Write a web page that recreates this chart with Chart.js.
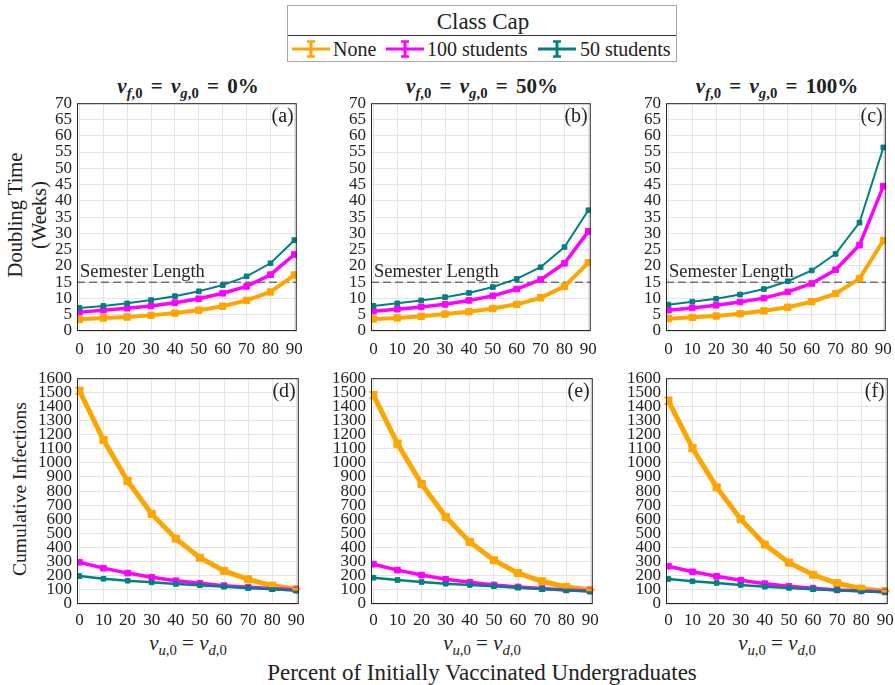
<!DOCTYPE html>
<html>
<head>
<meta charset="utf-8">
<script src="https://cdn.jsdelivr.net/npm/chart.js@4.4.1/dist/chart.umd.min.js"></script>
<style>
  body { margin: 0; background: #fff; font-family: 'Liberation Serif', 'DejaVu Serif', serif; color: #222; }
  #wrap { position: relative; width: 895px; height: 685px; overflow: hidden; }
  canvas { position: absolute; }
  .lbl { position: absolute; white-space: nowrap; line-height: 1; }
  .ctr { transform: translate(-50%, -50%); }
  .title { font-size: 21px; font-weight: bold; word-spacing: 3px; }
  .title i, .xsub i { font-style: italic; }
  sub { font-size: 70%; vertical-align: -0.35em; line-height: 0; }
  #legend { position: absolute; left: 287px; top: 5px; width: 390px; height: 57px; border: 1px solid #a8a8a8; box-sizing: border-box; }
  #legend .div { position: absolute; left: 0; right: 0; top: 29px; border-top: 1px solid #333; }
  .item { position: absolute; top: 33px; font-size: 20px; }
  .item svg { position: absolute; top: 0; }
</style>
</head>
<body>
<div id="wrap">
  <div id="legend">
    <div class="lbl ctr" style="left:195px; top:15px; font-size:23px;">Class Cap</div>
    <div class="div"></div>
  </div>
  <div class="lbl ctr title" style="left:188px; top:86px;"><i>v</i><sub><i>f</i>,0</sub> = <i>v</i><sub><i>g</i>,0</sub> = 0%</div>
  <div class="lbl ctr title" style="left:482px; top:86px;"><i>v</i><sub><i>f</i>,0</sub> = <i>v</i><sub><i>g</i>,0</sub> = 50%</div>
  <div class="lbl ctr title" style="left:777px; top:86px;"><i>v</i><sub><i>f</i>,0</sub> = <i>v</i><sub><i>g</i>,0</sub> = 100%</div>
  <div class="lbl" style="left:27px; top:215px; transform: translate(-50%, -50%) rotate(-90deg); font-size:20.5px; line-height:24px; text-align:center;">Doubling Time<br>(Weeks)</div>
  <div class="lbl" style="left:20px; top:489px; transform: translate(-50%, -50%) rotate(-90deg); font-size:19.5px;">Cumulative Infections</div>
  <div class="lbl ctr xsub" style="left:188px; top:643px; font-size:21px;"><i>v</i><sub><i>u</i>,0</sub> = <i>v</i><sub><i>d</i>,0</sub></div>
  <div class="lbl ctr xsub" style="left:482px; top:643px; font-size:21px;"><i>v</i><sub><i>u</i>,0</sub> = <i>v</i><sub><i>d</i>,0</sub></div>
  <div class="lbl ctr xsub" style="left:777px; top:643px; font-size:21px;"><i>v</i><sub><i>u</i>,0</sub> = <i>v</i><sub><i>d</i>,0</sub></div>
  <div class="lbl ctr" style="left:482px; top:672px; font-size:23px;">Percent of Initially Vaccinated Undergraduates</div>
</div>
<script>
// x values: percent of initially vaccinated undergraduates
const xVals = [0, 10, 20, 30, 40, 50, 60, 70, 80, 90];
const xTicks = [0, 10, 20, 30, 40, 50, 60, 70, 80, 90];
const dtTicks = [0, 5, 10, 15, 20, 25, 30, 35, 40, 45, 50, 55, 60, 65, 70];
const ciTicks = [0, 100, 200, 300, 400, 500, 600, 700, 800, 900, 1000, 1100, 1200, 1300, 1400, 1500, 1600];
const semesterLength = 15;

const seriesNames = ['None', '100 students', '50 students'];
const seriesColors = ['#ffa500', '#ff00ff', '#008080'];

// doubling time (weeks)
const dtNone0 = [3.6, 4.0, 4.3, 4.8, 5.5, 6.4, 7.6, 9.4, 12.0, 17.2];
const dt100s0 = [5.8, 6.4, 7.0, 7.7, 8.7, 9.9, 11.6, 13.7, 17.3, 23.5];
const dt50s0 = [7.1, 7.7, 8.5, 9.5, 10.7, 12.2, 14.1, 16.8, 20.8, 27.9];
const dtNone50 = [3.7, 4.0, 4.5, 5.2, 5.9, 6.9, 8.2, 10.2, 13.7, 21.0];
const dt100s50 = [6.1, 6.7, 7.4, 8.2, 9.4, 10.8, 12.9, 15.8, 20.8, 30.6];
const dt50s50 = [7.7, 8.5, 9.4, 10.4, 11.7, 13.5, 16.0, 19.6, 25.8, 37.1];
const dtNone100 = [3.8, 4.2, 4.6, 5.3, 6.2, 7.3, 9.0, 11.5, 16.1, 27.8];
const dt100s100 = [6.4, 7.1, 7.9, 8.9, 10.1, 12.0, 14.6, 18.8, 26.4, 44.5];
const dt50s100 = [8.1, 9.0, 9.9, 11.2, 12.9, 15.3, 18.6, 23.7, 33.3, 56.4];

// cumulative infections
const ciNone0 = [1511, 1162, 871, 638, 463, 328, 235, 175, 130, 105];
const ci100s0 = [296, 254, 219, 189, 165, 147, 130, 119, 109, 100];
const ci50s0 = [198, 179, 165, 154, 142, 133, 123, 114, 105, 95];
const ciNone50 = [1480, 1136, 850, 617, 440, 310, 219, 161, 121, 100];
const ci100s50 = [282, 240, 205, 175, 154, 135, 121, 109, 100, 93];
const ci50s50 = [186, 170, 156, 144, 135, 126, 116, 107, 98, 88];
const ciNone100 = [1440, 1104, 827, 601, 421, 293, 207, 147, 109, 91];
const ci100s100 = [268, 228, 196, 168, 144, 126, 112, 100, 93, 86];
const ci50s100 = [177, 161, 149, 135, 123, 114, 105, 98, 91, 84];

// error bar half-lengths (only visible on the "None" infections curves)
const ciNoneErr0 = [22, 20, 16, 13, 10, 8, 6, 5, 4, 3];
const ciNoneErr50 = [22, 20, 16, 13, 10, 8, 6, 5, 4, 3];
const ciNoneErr100 = [22, 20, 16, 13, 10, 8, 6, 5, 4, 3];

const FONT = "'Liberation Serif', 'DejaVu Serif', serif";

// legend symbols
function legendItems() {
  const lg = document.getElementById('legend');
  const pos = [[4, 45], [98, 139], [250, 292]];
  seriesNames.forEach((name, i) => {
    const c = seriesColors[i];
    const sym = document.createElement('div');
    sym.className = 'item';
    sym.style.left = pos[i][0] + 'px';
    sym.innerHTML = '<svg width="38" height="20" style="left:0"><line x1="0" y1="10" x2="38" y2="10" stroke="' + c + '" stroke-width="3"/>' +
      '<line x1="19" y1="2" x2="19" y2="18" stroke="' + c + '" stroke-width="3"/>' +
      '<line x1="15" y1="2.5" x2="23" y2="2.5" stroke="' + c + '" stroke-width="2.5"/>' +
      '<line x1="15" y1="17.5" x2="23" y2="17.5" stroke="' + c + '" stroke-width="2.5"/></svg>';
    lg.appendChild(sym);
    const t = document.createElement('div');
    t.className = 'item';
    t.style.left = pos[i][1] + 'px';
    t.style.top = '32px';
    t.textContent = name;
    lg.appendChild(t);
  });
}
legendItems();

const panelDeco = {
  id: 'panelDeco',
  beforeDatasetsDraw(chart, args, opts) {
    const ctx = chart.ctx, a = chart.chartArea, y = chart.scales.y;
    if (opts.semester != null) {
      const py = y.getPixelForValue(opts.semester);
      ctx.save();
      ctx.strokeStyle = '#222';
      ctx.lineWidth = 0.9;
      ctx.setLineDash([8, 4]);
      ctx.beginPath();
      ctx.moveTo(a.left, py);
      ctx.lineTo(a.right, py);
      ctx.stroke();
      ctx.setLineDash([]);
      ctx.fillStyle = '#262626';
      ctx.font = '18.5px ' + FONT;
      ctx.textBaseline = 'bottom';
      ctx.fillText('Semester Length', a.left + 3, py - 1);
      ctx.restore();
    }
  },
  afterDatasetsDraw(chart, args, opts) {
    const ctx = chart.ctx, a = chart.chartArea, y = chart.scales.y;
    ctx.save();
    chart.data.datasets.forEach((ds, i) => {
      if (!ds.errors) return;
      const meta = chart.getDatasetMeta(i);
      ctx.strokeStyle = ds.borderColor;
      ctx.lineWidth = 2;
      meta.data.forEach((pt, j) => {
        const v = ds.data[j].y, e = ds.errors[j];
        const y1 = y.getPixelForValue(v - e), y2 = y.getPixelForValue(v + e);
        ctx.beginPath();
        ctx.moveTo(pt.x, y1); ctx.lineTo(pt.x, y2);
        ctx.moveTo(pt.x - 4, y1); ctx.lineTo(pt.x + 4, y1);
        ctx.moveTo(pt.x - 4, y2); ctx.lineTo(pt.x + 4, y2);
        ctx.stroke();
      });
    });
    ctx.strokeStyle = '#262626';
    ctx.lineWidth = 1;
    ctx.strokeRect(a.left + 0.5, a.top + 0.5, a.width - 1, a.height - 1);
    ctx.fillStyle = '#222';
    ctx.font = '20px ' + FONT;
    ctx.textAlign = 'right';
    ctx.textBaseline = 'top';
    ctx.fillText(opts.letter, a.right - 3, a.top + 4);
    ctx.restore();
  }
};

function makePanel(left, top, plotW, plotH, yTicks, series, errors, letter, semester, bottomRow) {
  const padTop = 12, padRight = 12, yW = 52, xH = 24;
  const cv = document.createElement('canvas');
  cv.width = yW + plotW + padRight;
  cv.height = padTop + plotH + xH;
  cv.style.left = (left - yW) + 'px';
  cv.style.top = (top - padTop) + 'px';
  document.getElementById('wrap').appendChild(cv);

  const widths = bottomRow ? [5, 3.5, 2.5] : [4, 3.5, 2];
  const radii = bottomRow ? [5, 4, 3.3] : [4.5, 4, 3.3];

  new Chart(cv, {
    type: 'line',
    data: {
      datasets: series.map((vals, i) => ({
        label: seriesNames[i],
        data: xVals.map((x, j) => ({ x: x, y: vals[j] })),
        errors: errors[i],
        borderColor: seriesColors[i],
        backgroundColor: seriesColors[i],
        borderWidth: widths[i],
        pointStyle: 'rect',
        pointRadius: radii[i],
        pointBorderWidth: 1,
        tension: 0,
        order: 3 - i
      }))
    },
    options: {
      responsive: false,
      animation: false,
      layout: { padding: { top: padTop, right: padRight, left: 0, bottom: 0 } },
      plugins: {
        legend: { display: false },
        tooltip: { enabled: false },
        panelDeco: { letter: letter, semester: semester }
      },
      scales: {
        x: {
          type: 'linear', min: -1, max: 91,
          afterBuildTicks: s => { s.ticks = xTicks.map(v => ({ value: v })); },
          afterFit: s => { s.height = xH; },
          grid: { color: '#e4e4e4', drawTicks: false },
          border: { display: false },
          ticks: { autoSkip: false, maxRotation: 0, padding: bottomRow ? 6 : 8, color: '#222',
                   font: { family: FONT, size: 17 }, callback: v => String(v) }
        },
        y: {
          min: yTicks[0], max: yTicks[yTicks.length - 1],
          afterBuildTicks: s => { s.ticks = yTicks.map(v => ({ value: v })); },
          afterFit: s => { s.width = yW; },
          grid: { color: '#e4e4e4', drawTicks: false },
          border: { display: false },
          ticks: { autoSkip: false, padding: 5, color: '#222',
                   font: { family: FONT, size: 17 }, callback: v => String(v) }
        }
      }
    },
    plugins: [panelDeco]
  });
}

const noErr = [null, null, null];
makePanel(77, 100, 222, 231, dtTicks, [dtNone0, dt100s0, dt50s0], noErr, '(a)', semesterLength, false);
makePanel(371, 100, 222, 231, dtTicks, [dtNone50, dt100s50, dt50s50], noErr, '(b)', semesterLength, false);
makePanel(666, 100, 222, 231, dtTicks, [dtNone100, dt100s100, dt50s100], noErr, '(c)', semesterLength, false);
makePanel(77, 375, 222, 229, ciTicks, [ciNone0, ci100s0, ci50s0], [ciNoneErr0, null, null], '(d)', null, true);
makePanel(371, 375, 222, 229, ciTicks, [ciNone50, ci100s50, ci50s50], [ciNoneErr50, null, null], '(e)', null, true);
makePanel(666, 375, 222, 229, ciTicks, [ciNone100, ci100s100, ci50s100], [ciNoneErr100, null, null], '(f)', null, true);
</script>
</body>
</html>
